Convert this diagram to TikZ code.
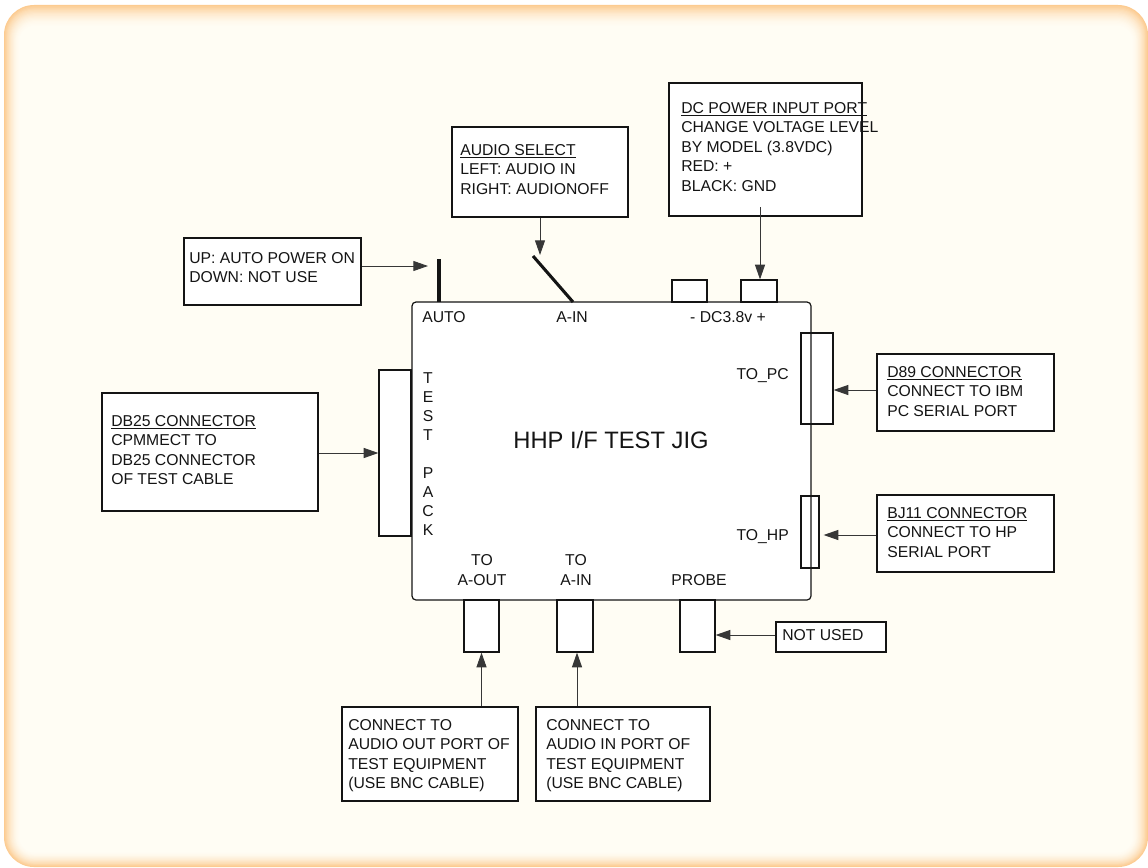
\documentclass[tikz,border=0pt]{standalone}
\usepackage{fontspec}
\setmainfont{Liberation Sans}
\usetikzlibrary{arrows.meta,fit}
\definecolor{cream}{HTML}{FFFDF4}
\definecolor{glow}{HTML}{FCCB90}
\definecolor{ink}{HTML}{141414}
\tikzset{
  box/.style={draw=ink, fill=white, line width=0.9pt, inner sep=0pt},
  conn/.style={draw=ink, fill=white, line width=0.9pt, inner sep=0pt},
  txt/.style={inner sep=0pt, align=left, text=ink, font=\fontsize{11.8}{14.6}\selectfont},
  lbl/.style={inner sep=0pt, text=ink, font=\fontsize{11.8}{14.6}\selectfont},
  arr/.style={draw=ink!85, line width=0.7pt, -{Triangle[length=11pt,width=7.5pt]}},
  sw/.style={draw=ink, line width=2.3pt},
}
\begin{document}
\begin{tikzpicture}[x=0.75pt,y=-0.75pt]
\useasboundingbox (0,0) rectangle (1148,867);
% background glow
\foreach \i [evaluate=\i as \p using int(100*(1-\i/20)^2)] in {0,...,20} {
  \fill[glow!\p!cream, rounded corners={(30-0.8*\i)*0.75pt}]
    (4+0.85*\i, 5+1.15*\i) rectangle (1148-0.85*\i, 867-0.8*\i);
}
% main box
\node[fill=white, inner sep=0pt, rounded corners=3pt, fit={(412,302) (811,600)}] (jigfill) {};
% connectors
\node[conn, fit={(379,370) (411,536)}] (tp) {};
\node[conn, fit={(801,333) (833,424)}] (topc) {};
\node[conn, fit={(801,496) (819,568)}] (tohp) {};
\node[conn, fit={(672,280) (707,302)}] (dcm) {};
\node[conn, fit={(741,280) (777,302)}] (dcp) {};
\node[conn, fit={(464,600) (499,652)}] (aoutc) {};
\node[conn, fit={(557,600) (593,652)}] (ainc) {};
\node[conn, fit={(680,600) (715,652)}] (probec) {};
\node[draw=ink, line width=0.9pt, inner sep=0pt, rounded corners=3pt, fit={(412,302) (811,600)}] (jig) {};
% switches
\coordinate (autotop) at (439,259);
\coordinate (autobot) at (439,302);
\draw[sw] (autotop) -- (autobot);
\coordinate (aintop) at (533,256);
\coordinate (ainbot) at (573,302);
\draw[sw] (aintop) -- (ainbot);
% labels in the jig
\node[lbl, anchor=base] (lauto) at (444,322) {AUTO};
\node[lbl, anchor=base] (lain) at (572,322) {A-IN};
\node[lbl, anchor=base] (ldc) at (728,322) {- DC3.8v +};
\node[lbl, anchor=base east] (ltopc) at (789,379) {TO\_PC};
\node[lbl, anchor=base east] (ltohp) at (789,540) {TO\_HP};
\node[lbl, anchor=base] (lto1) at (482,565) {TO};
\node[lbl, anchor=base] (laout) at (482,585) {A-OUT};
\node[lbl, anchor=base] (lto2) at (576,565) {TO};
\node[lbl, anchor=base] (lain2) at (576,585) {A-IN};
\node[lbl, anchor=base] (lprobe) at (699,585) {PROBE};
\foreach \c/\k in {T/0,E/1,S/2,T/3,P/5,A/6,C/7,K/8} {
  \node[lbl, anchor=base] (tp\k) at (428,383+19.1*\k) {\c};
}
\node[inner sep=0pt, text=ink, font=\fontsize{17.8}{20}\selectfont, anchor=base] (title) at (611,448) {HHP I/F TEST JIG};
% callout boxes
\node[box, fit={(184,238) (361,305)}] (upbox) {};
\node[txt, anchor=north west] (uptxt) at (189,252) {UP: AUTO POWER ON\\DOWN: NOT USE};
\node[box, fit={(452,127) (628,217)}] (audbox) {};
\node[txt, anchor=north west] (audtxt) at (460,144) {\underline{AUDIO SELECT}\\LEFT: AUDIO IN\\RIGHT: AUDIONOFF};
\node[box, fit={(669,83) (862,216)}] (dcbox) {};
\node[txt, anchor=north west] (dctxt) at (681,102) {\underline{DC POWER INPUT PORT}\\CHANGE VOLTAGE LEVEL\\BY MODEL (3.8VDC)\\RED: +\\BLACK: GND};
\node[box, fit={(102,393) (318,511)}] (dbbox) {};
\node[txt, anchor=north west] (dbtxt) at (111,415) {\underline{DB25 CONNECTOR}\\CPMMECT TO\\DB25 CONNECTOR\\OF TEST CABLE};
\node[box, fit={(877,354) (1054,431)}] (d89box) {};
\node[txt, anchor=north west] (d89txt) at (887,366) {\underline{D89 CONNECTOR}\\CONNECT TO IBM\\PC SERIAL PORT};
\node[box, fit={(877,495) (1054,572)}] (bjbox) {};
\node[txt, anchor=north west] (bjtxt) at (887,507) {\underline{BJ11 CONNECTOR}\\CONNECT TO HP\\SERIAL PORT};
\node[box, fit={(776,622) (886,652)}] (nubox) {};
\node[txt, anchor=north west] (nutxt) at (782,629) {NOT USED};
\node[box, fit={(342,707) (518,801)}] (b1box) {};
\node[txt, anchor=north west] (b1txt) at (348,719) {CONNECT TO\\AUDIO OUT PORT OF\\TEST EQUIPMENT\\(USE BNC CABLE)};
\node[box, fit={(536,707) (710,801)}] (b2box) {};
\node[txt, anchor=north west] (b2txt) at (546,719) {CONNECT TO\\AUDIO IN PORT OF\\TEST EQUIPMENT\\(USE BNC CABLE)};
% arrows
\coordinate (autotip) at (428,266);
\draw[arr] (upbox.east |- autotip) -- (autotip);
\coordinate (audtip) at (540,255);
\draw[arr] (audbox.south -| audtip) -- (audtip);
\coordinate (dcstart) at (760,207);
\draw[arr] (dcstart) -- (dcp.north -| dcstart);
\draw[arr] (dbbox.east |- tp.west) -- (tp.west);
\coordinate (pcy) at (0,390);
\draw[arr] (d89box.west |- pcy) -- (topc.east |- pcy);
\coordinate (hpy) at (0,535);
\draw[arr] (bjbox.west |- hpy) -- ([xshift=3pt]tohp.east |- hpy);
\coordinate (nuy) at (0,635);
\draw[arr] (nubox.west |- nuy) -- (probec.east |- nuy);
\draw[arr] (b1box.north -| aoutc.south) -- (aoutc.south);
\coordinate (ainx) at (577,0);
\draw[arr] (b2box.north -| ainx) -- (ainc.south -| ainx);
\end{tikzpicture}
\end{document}
